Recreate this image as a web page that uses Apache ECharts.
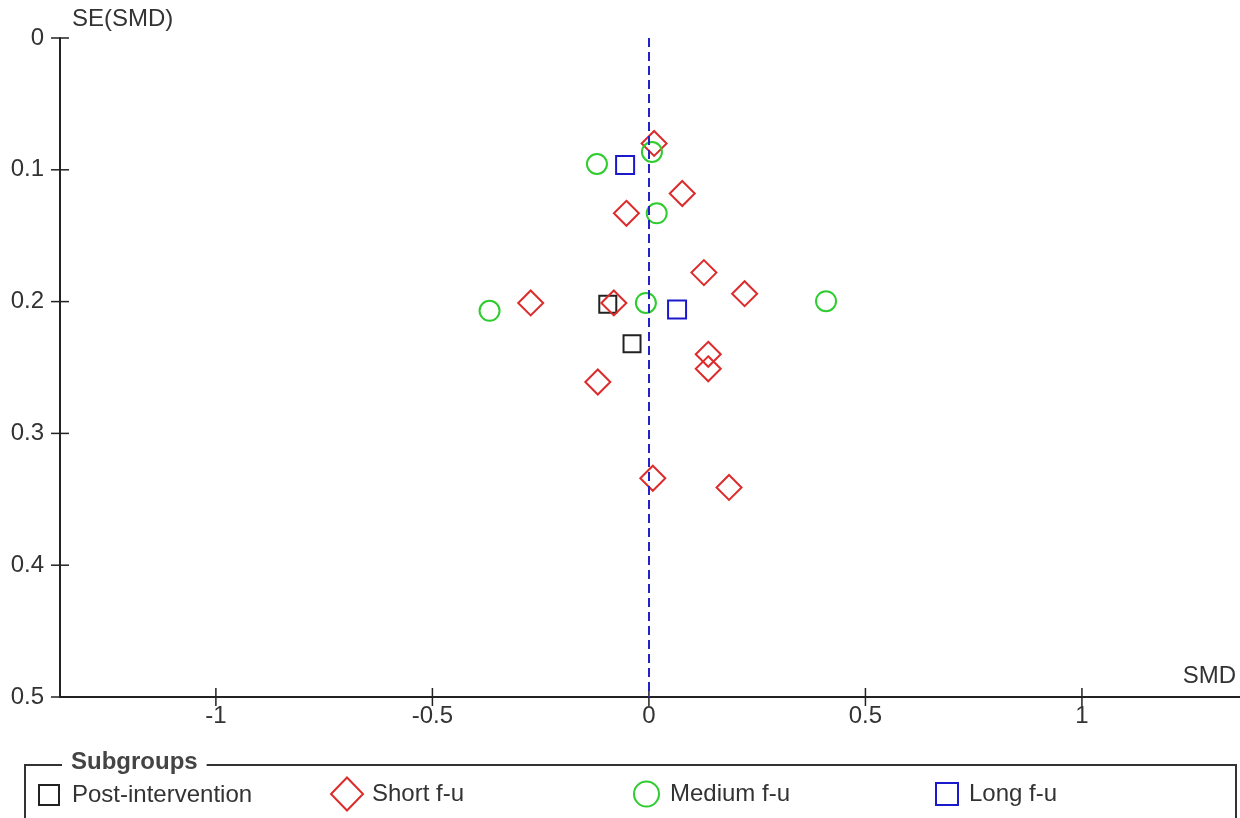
<!DOCTYPE html>
<html>
<head>
<meta charset="utf-8">
<script src="https://cdn.jsdelivr.net/npm/echarts@6/dist/echarts.min.js"></script>
<style>
html,body{margin:0;padding:0;background:#fff;}
#chart{width:1240px;height:818px;}
</style>
</head>
<body>
<div id="chart"></div>
<script>
// Subgroup data: SMD (x) and SE(SMD) (y)
const postX = [-0.095, -0.039];
const postY = [0.202, 0.232];
const shortX = [0.012, 0.077, -0.052, 0.127, 0.221, -0.273, -0.081, 0.137, 0.137, -0.118, 0.009, 0.185];
const shortY = [0.080, 0.118, 0.133, 0.178, 0.194, 0.201, 0.201, 0.240, 0.251, 0.261, 0.334, 0.341];
const mediumX = [0.007, -0.120, 0.018, 0.409, -0.368, -0.007];
const mediumY = [0.0865, 0.0956, 0.133, 0.1997, 0.207, 0.201];
const longX = [-0.055, 0.065];
const longY = [0.0964, 0.206];
const seriesNames = ['Post-intervention', 'Short f-u', 'Medium f-u', 'Long f-u'];
const xTicks = [-1, -0.5, 0, 0.5, 1];
const yTicks = [0, 0.1, 0.2, 0.3, 0.4, 0.5];

const FONT = 'Liberation Sans, Arial, sans-serif';
const pair = (xs, ys) => xs.map((x, i) => [x, ys[i]]);

const chart = echarts.init(document.getElementById('chart'), null, {renderer: 'canvas'});

const xMin = -1.360, xMax = 1.365;
const yMin = 0, yMax = 0.5;
const TICK = 9;
const tickStyle = {stroke: '#222', lineWidth: 1.5};
const lineStyle = {color: '#222', width: 2};

function sym(name, shape, size, color, data) {
  return {
    name: name, type: 'scatter', xAxisIndex: 0, yAxisIndex: 0,
    symbol: shape, symbolSize: size, data: data, z: 3,
    itemStyle: {color: 'rgba(0,0,0,0)', borderColor: color, borderWidth: 2, opacity: 1},
    emphasis: {disabled: true}
  };
}

function legendAt(name, left, w, h, pad, color, icon) {
  return {
    data: [{name: name, icon: icon}],
    left: left, top: 793 - h / 2, padding: 0,
    itemWidth: w, itemHeight: h, selectedMode: false,
    itemStyle: {color: 'rgba(0,0,0,0)', borderColor: color, borderWidth: 2},
    textStyle: {fontSize: 24, fontFamily: FONT, color: '#333', padding: [0, 0, 0, pad]}
  };
}

// tick marks that cross the axis line (half outside, half inside)
const xTickSeries = {
  type: 'custom', name: 'xticks', silent: true, clip: false, z: 4,
  data: xTicks.map(v => [v, yMax]),
  renderItem: (params, api) => {
    const p = api.coord([api.value(0), api.value(1)]);
    return {type: 'line', shape: {x1: p[0], y1: p[1] - TICK, x2: p[0], y2: p[1] + TICK}, style: tickStyle};
  }
};
const yTickSeries = {
  type: 'custom', name: 'yticks', silent: true, clip: false, z: 4,
  data: yTicks.map(v => [xMin, v]),
  renderItem: (params, api) => {
    const p = api.coord([api.value(0), api.value(1)]);
    return {type: 'line', shape: {x1: p[0] - TICK, y1: p[1], x2: p[0] + TICK, y2: p[1]}, style: tickStyle};
  }
};

const option = {
  backgroundColor: '#fff',
  animation: false,
  grid: {left: 60, right: 0, top: 38, bottom: 121, containLabel: false},
  xAxis: {
    type: 'value', min: xMin, max: xMax, position: 'bottom', splitLine: {show: false},
    axisLine: {show: true, onZero: false, lineStyle: lineStyle},
    axisTick: {show: false},
    axisLabel: {show: true, margin: 7, color: '#333', fontSize: 24, fontFamily: FONT,
      customValues: xTicks, formatter: v => String(v)}
  },
  yAxis: {
    type: 'value', min: yMin, max: yMax, inverse: true, position: 'left', splitLine: {show: false},
    axisLine: {show: true, onZero: false, lineStyle: lineStyle},
    axisTick: {show: false},
    axisLabel: {show: true, margin: 16, color: '#333', fontSize: 24, fontFamily: FONT,
      customValues: yTicks, formatter: v => String(v)}
  },
  legend: [
    legendAt(seriesNames[0], 38, 20, 20, 8, '#222', 'rect'),
    legendAt(seriesNames[1], 330, 32, 33, 4, '#dd2a2a', 'diamond'),
    legendAt(seriesNames[2], 633, 25, 25, 6, '#2ecc2e', 'circle'),
    legendAt(seriesNames[3], 935, 22, 22, 6, '#1a1acc', 'rect')
  ],
  series: [
    Object.assign(sym(seriesNames[0], 'rect', 17, '#222', pair(postX, postY)), {
      markLine: {
        silent: true, symbol: ['none', 'none'], label: {show: false},
        lineStyle: {color: '#2222cc', width: 2, type: [9, 5]},
        data: [{xAxis: 0}]
      }
    }),
    sym(seriesNames[1], 'diamond', 25, '#dd2a2a', pair(shortX, shortY)),
    sym(seriesNames[2], 'circle', 20, '#2ecc2e', pair(mediumX, mediumY)),
    sym(seriesNames[3], 'rect', 18, '#1a1acc', pair(longX, longY)),
    xTickSeries,
    yTickSeries
  ],
  graphic: [
    {type: 'text', left: 72, top: 7, style: {text: 'SE(SMD)', fontSize: 24, fontFamily: FONT, fill: '#333'}},
    {type: 'text', right: 4, top: 664, style: {text: 'SMD', fontSize: 24, fontFamily: FONT, fill: '#333'}},
    {type: 'rect', shape: {x: 25, y: 765, width: 1211, height: 120},
      style: {fill: 'none', stroke: '#333', lineWidth: 2}, z: 1},
    {type: 'text', left: 62, top: 750, z: 2,
      style: {text: 'Subgroups', fontSize: 24, fontWeight: 'bold', fontFamily: FONT, fill: '#444',
        backgroundColor: '#fff', padding: [0, 9, 0, 9]}}
  ]
};
chart.setOption(option);
</script>
</body>
</html>
